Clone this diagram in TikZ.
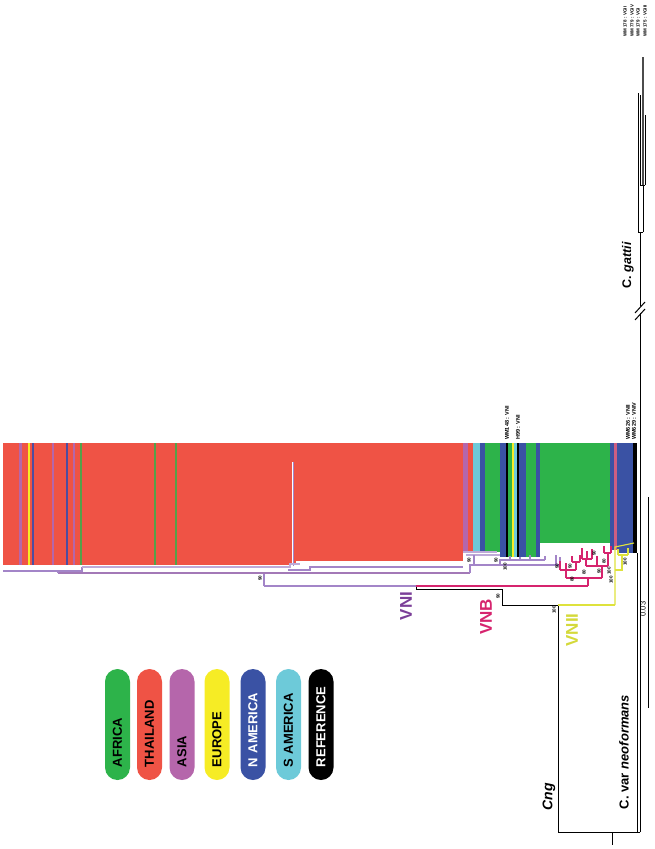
\documentclass[tikz,border=0pt]{standalone}
\usepackage{fontspec}
\setmainfont{Liberation Sans}
\definecolor{AfricaClr}{RGB}{45,179,74}
\definecolor{ThaiClr}{RGB}{239,83,69}
\definecolor{AsiaClr}{RGB}{181,102,171}
\definecolor{EuropeClr}{RGB}{246,236,37}
\definecolor{NAmClr}{RGB}{58,82,164}
\definecolor{SAmClr}{RGB}{109,202,217}
\definecolor{VNIClr}{RGB}{123,63,152}
\definecolor{VNILine}{RGB}{163,133,200}
\definecolor{VNBClr}{RGB}{214,36,110}
\definecolor{VNIIClr}{RGB}{212,217,58}
\definecolor{VNIILine}{RGB}{222,226,60}

\begin{document}
\begin{tikzpicture}[x=1pt,y=-1pt,
  pill/.style={rotate=90,rounded corners=12.5pt,minimum width=111pt,minimum height=25pt,inner xsep=13pt,inner ysep=0pt,text width=85pt,align=left,font=\fontsize{13}{13}\selectfont\bfseries},
  clade/.style={rotate=90,inner sep=0pt,font=\fontsize{17}{17}\selectfont\bfseries},
  taxon/.style={rotate=90,inner sep=0pt,font=\fontsize{13}{13}\selectfont\bfseries},
  boot/.style={rotate=90,inner sep=0pt,font=\fontsize{4.5}{4.5}\selectfont\bfseries},
  strain/.style={rotate=90,anchor=west,inner sep=0pt,font=\fontsize{5.5}{5.5}\selectfont\bfseries},
  br/.style={line width=1pt},
  vni/.style={line width=1.1pt,VNILine},
  vnb/.style={line width=1.1pt,VNBClr},
  vnii/.style={line width=1.1pt,VNIILine}]
\useasboundingbox (0,0) rectangle (655,849);

% tips, coloured by origin
\fill[ThaiClr] (3,443) rectangle (463,565);
\fill[AsiaClr] (19,443) rectangle (21.5,565);
\fill[EuropeClr] (27.5,443) rectangle (29.5,565);
\fill[NAmClr!70!VNIClr] (32,443) rectangle (34,565);
\fill[AsiaClr] (51.5,443) rectangle (53.5,565);
\fill[NAmClr!70!VNIClr] (66,443) rectangle (68,565);
\fill[AsiaClr] (73,443) rectangle (75,565);
\fill[AfricaClr!80!ThaiClr] (80,443) rectangle (82,565);
\fill[AfricaClr!80!ThaiClr] (154,443) rectangle (156,565);
\fill[AfricaClr!80!ThaiClr] (175,443) rectangle (177,565);
\fill[AsiaClr] (463,443) rectangle (468,552);
\fill[ThaiClr] (468,443) rectangle (473,552);
\fill[SAmClr] (473,443) rectangle (480,552);
\fill[NAmClr] (480,443) rectangle (485,552);
\fill[AfricaClr] (485,443) rectangle (500,552);
\fill[NAmClr] (500,443) rectangle (506,557);
\fill[black] (506,443) rectangle (508,557);
\fill[AfricaClr] (508,443) rectangle (512,557);
\fill[EuropeClr] (512,443) rectangle (514,557);
\fill[SAmClr] (514,443) rectangle (517,557);
\fill[black] (517,443) rectangle (519,557);
\fill[NAmClr] (519,443) rectangle (526,557);
\fill[AfricaClr] (526,443) rectangle (536,557);
\fill[NAmClr] (536,443) rectangle (540,557);
\fill[AfricaClr] (540,443) rectangle (610,543);
\fill[NAmClr] (610,443) rectangle (614,550);
\fill[AsiaClr!60!ThaiClr] (614,443) rectangle (617,550);
\fill[NAmClr] (617,443) rectangle (633,553);
\fill[black] (633,443) rectangle (637,553);

% a single long tip inside the Thai block
\draw[white,line width=2.2pt] (293,462) -- (293,566);
\draw[VNILine,line width=0.5pt] (293,462) -- (293,566);
\fill[white] (296,561) rectangle (463,566);

% reference strains
\node[strain] (wm148) at (507,440) {WM148 : VNI};
\node[strain] (h99) at (518,440) {H99 : VNI};
\node[strain] (wm626) at (628,440) {WM626 : VNII};
\node[strain] (wm629) at (634,440) {WM629 : VNIV};
\node[strain,font=\fontsize{4.5}{4.5}\selectfont\bfseries] (wm178) at (625,37) {WM 178 : VGII};
\node[strain,font=\fontsize{4.5}{4.5}\selectfont\bfseries] (wm779) at (632,37) {WM 779 : VGIV};
\node[strain,font=\fontsize{4.5}{4.5}\selectfont\bfseries] (wm179) at (638,37) {WM 179 : VGI};
\node[strain,font=\fontsize{4.5}{4.5}\selectfont\bfseries] (wm175) at (645,37) {WM 175 : VGIII};

% root, C. gattii and VNIV
\coordinate (cngL) at (558,832);
\coordinate (cngR) at (640,832);
\coordinate (rootstub) at (612,845);
\coordinate (brkA) at (640,313);
\coordinate (brkB) at (640,306);
\coordinate (cgN) at (640,232);
\draw[br] (cngL) -- (cngR);
\draw[br] (612,832) -- (rootstub);
\draw[br] (637,832) -- (637,553);
\draw[br] (cngR) -- (brkA);
\draw[br] (brkB) -- (cgN);
\draw[br] (635,320) -- (645,309);
\draw[br] (635,313) -- (645,302);
\draw[br] (638,232) -- (643,232);
\draw[br] (638,232) -- (638,93);
\draw[br] (643,232) -- (643,185);
\draw[br] (640,185) -- (645,185);
\draw[br] (640,185) -- (640,95);
\draw[br] (645,185) -- (645,115);
\draw[black!70,line width=2pt] (643,185) -- (643,57);

% C. neoformans backbone
\coordinate (cnN) at (558,605);
\coordinate (vnN) at (502,605);
\coordinate (vniiN) at (615,605);
\coordinate (bN) at (416,589);
\draw[br] (cngL) -- (cnN);
\draw[br] (vnN) -- (cnN);
\draw[vnii] (cnN) -- (vniiN);
\draw[br] (vnN) -- (502,589) -- (bN) -- (416,586);
\draw[vni] (264,586) -- (416,586);
\draw[vnb] (416,586) -- (588,586);

% VNI
\draw[vni] (264,586) -- (264,573);
\draw[vni,VNIClr!70] (58,573) -- (470,573);
\draw[vni] (58,573) -- (58,571) -- (3,571);
\draw[vni] (58,571) -- (82,571) -- (82,567);
\draw[vni,VNILine!70] (82,567) -- (290,567) -- (290,564) -- (300,564);
\draw[vni] (288,570) -- (310,570) -- (310,567) -- (463,567);
\draw[vni] (470,573) -- (470,565) -- (560,565);
\draw[vni,VNILine!70] (463,552) -- (497,552);
\draw[vni,VNILine!70] (466,555) -- (500,555);
\draw[vni] (474,555) -- (474,565);
\draw[vni] (500,565) -- (500,560) -- (545,560);
\draw[vni] (510,560) -- (510,556);
\draw[vni] (520,560) -- (520,557);
\draw[vni] (530,560) -- (530,555);
\draw[vni] (545,560) -- (545,556);
\draw[vni] (556,565) -- (556,555);
\draw[vni] (560,565) -- (560,557);
\node[boot] (b90a) at (260,578) {90};
\node[boot] (b90b) at (469,560) {90};
\node[boot] (b90c) at (496,560) {90};
\node[boot] (b100a) at (505,567) {100};

% VNB
\draw[vnb] (588,586) -- (588,578);
\draw[vnb] (566,578) -- (602,578);
\draw[vnb] (566,578) -- (566,570);
\draw[vnb] (560,570) -- (576,570);
\draw[vnb] (560,570) -- (560,561);
\draw[vnb] (566,570) -- (566,563);
\draw[vnb] (576,570) -- (576,562);
\draw[vnb] (572,562) -- (580,562);
\draw[vnb] (572,562) -- (572,556);
\draw[vnb] (580,562) -- (580,555);
\draw[vnb] (602,578) -- (602,566);
\draw[vnb] (586,566) -- (608,566);
\draw[vnb] (586,566) -- (586,559);
\draw[vnb] (582,559) -- (592,559);
\draw[vnb] (582,559) -- (582,548);
\draw[vnb] (587,559) -- (587,551);
\draw[vnb] (592,559) -- (592,549);
\draw[vnb] (597,566) -- (597,556);
\draw[vnb] (608,566) -- (608,553);
\draw[vnb] (604,553) -- (611,553);
\draw[vnb] (604,553) -- (604,546);
\draw[vnb] (611,553) -- (611,546);
\node[boot] (b80a) at (572,579) {80};
\node[boot] (b90d) at (557,566) {90};
\node[boot] (b90e) at (570,566) {90};
\node[boot] (b80b) at (584,572) {80};
\node[boot] (b90f) at (599,571) {90};
\node[boot] (b90g) at (594,553) {90};
\node[boot] (b80c) at (604,561) {80};
\node[boot] (b100b) at (609,571) {100};

% VNII
\draw[vnii] (vniiN) -- (615,547) -- (634,543);
\draw[vnii] (615,570) -- (622,570) -- (622,555);
\draw[vnii] (618,555) -- (628,555);
\draw[vnii] (618,555) -- (618,549);
\draw[vnii] (628,555) -- (628,548);
\node[boot] (b100c) at (611,580) {100};
\node[boot] (b100d) at (625,562) {100};
\node[boot] (b90h) at (498,596) {90};
\node[boot] (b100e) at (554,610) {100};

% scale bar
\coordinate (sbTop) at (648,497);
\coordinate (sbBot) at (648,708);
\draw[br] (sbTop) -- (sbBot);
\node[rotate=90,inner sep=0pt,font=\fontsize{7.5}{7.5}\selectfont] (sbLbl) at (643,609) {0.03};

% clade and taxon labels
\node[clade,VNIClr] (vniLbl) at (406,606) {VNI};
\node[clade,VNBClr] (vnbLbl) at (486,617) {VNB};
\node[clade,VNIIClr] (vniiLbl) at (572,630) {VNII};
\node[taxon,font=\fontsize{14}{14}\selectfont\bfseries\itshape] (cngLbl) at (549,797) {Cng};
\node[taxon] (cvnLbl) at (624,752) {C. var \textit{neoformans}};
\node[taxon,font=\fontsize{12.5}{12.5}\selectfont\bfseries] (cgLbl) at (628,265) {C. \textit{gattii}};

% legend
\node[pill,fill=AfricaClr,text=black] (africa) at (117.5,724.5) {AFRICA};
\node[pill,fill=ThaiClr,text=black] (thailand) at (149.5,724.5) {THAILAND};
\node[pill,fill=AsiaClr,text=black] (asia) at (182,724.5) {ASIA};
\node[pill,fill=EuropeClr,text=black] (europe) at (217,724.5) {EUROPE};
\node[pill,fill=NAmClr,text=white] (namerica) at (253,724.5) {N AMERICA};
\node[pill,fill=SAmClr,text=black] (samerica) at (288.5,724.5) {S AMERICA};
\node[pill,fill=black,text=white] (reference) at (321,724.5) {REFERENCE};

\end{tikzpicture}
\end{document}
